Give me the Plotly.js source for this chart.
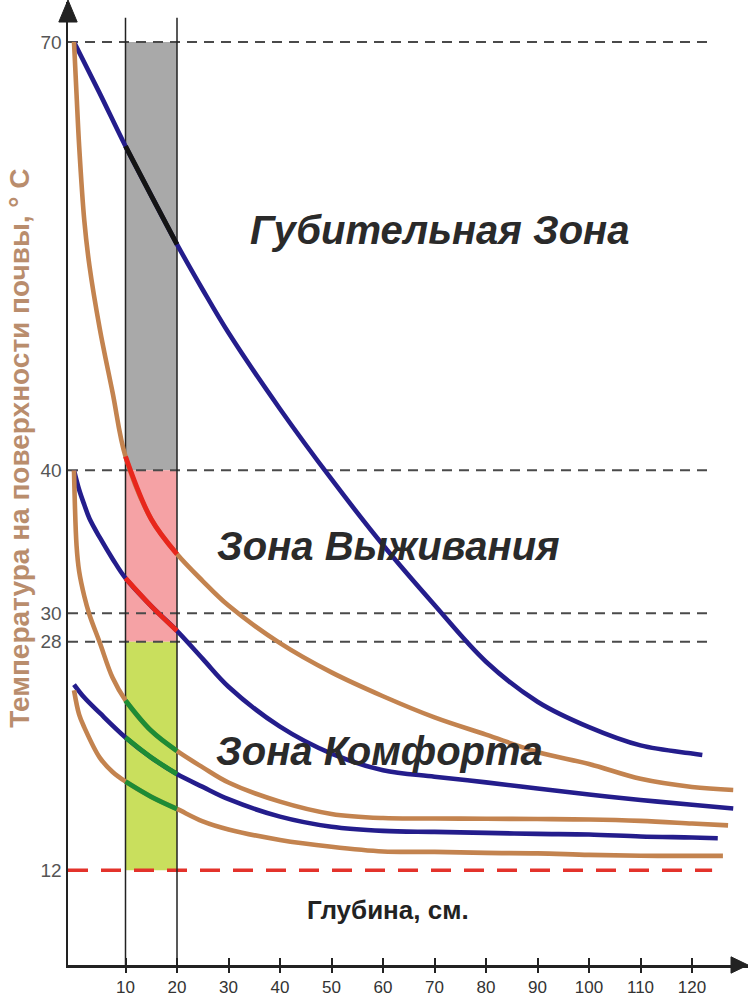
<!DOCTYPE html>
<html><head><meta charset="utf-8">
<script src="https://cdn.plot.ly/plotly-3.0.1.min.js"></script>
<style>html,body{margin:0;padding:0;background:#fff}#chart{width:750px;height:1000px}</style>
</head><body><div id="chart"></div>
<script>
// ---- data ----
const xTickVals = [10, 20, 30, 40, 50, 60, 70, 80, 90, 100, 110, 120];
const yTickVals = [12, 28, 30, 40, 70];
const dashedLevels = [70, 40, 30, 28];
const minLevel = 12;
const bandDepth = [10, 20];
const zoneKilling = [40, 70];
const zoneSurvival = [28, 40];
const zoneComfort = [12, 28];

const depthA = [0, 5, 10, 15, 20, 25, 30, 40, 50, 60, 70, 80, 90, 100, 110, 120, 122];
const tempA  = [70, 66.4, 62.7, 59.24, 55.83, 52.65, 49.63, 44.3, 39.38, 34.77, 30.57, 26.6, 23.8, 22.02, 20.74, 20.17, 20.07];

const depthB = [0, 0.5, 1, 2, 3, 5, 7.5, 10, 15, 20, 25, 30, 40, 50, 60, 70, 80, 90, 100, 110, 120, 128];
const tempB  = [70, 66.3, 62.72, 57.5, 54.33, 49.93, 45.44, 40.97, 36.58, 34.14, 32.25, 30.53, 27.9, 25.85, 24.18, 22.7, 21.49, 20.28, 19.44, 18.4, 17.83, 17.62];

const depthC = [0, 1, 2, 3, 5, 7.5, 10, 15, 20, 25, 30, 40, 50, 60, 70, 80, 90, 100, 110, 120, 128];
const tempC  = [40, 38.64, 37.59, 36.63, 35.3, 33.8, 32.45, 30.49, 28.76, 26.8, 24.85, 22.05, 20.16, 19.0, 18.55, 18.15, 17.72, 17.3, 16.92, 16.58, 16.32];

const depthD = [0, 0.5, 1, 2, 3, 5, 7.5, 10, 15, 20, 25, 30, 40, 50, 60, 70, 80, 90, 100, 110, 120, 127];
const tempD  = [40, 34.71, 32.92, 31.18, 29.89, 27.94, 25.47, 23.89, 21.76, 20.35, 19.2, 18.14, 16.8, 15.94, 15.65, 15.62, 15.6, 15.58, 15.55, 15.45, 15.27, 15.14];

const depthE = [0, 2, 5, 10, 15, 20, 25, 30, 40, 50, 60, 70, 80, 90, 100, 110, 120, 125];
const tempE  = [25.0, 24.09, 23.01, 21.3, 19.89, 18.73, 17.83, 16.97, 15.75, 15.04, 14.75, 14.68, 14.61, 14.54, 14.5, 14.36, 14.29, 14.24];

const depthF = [0, 1, 2, 5, 7.5, 10, 15, 20, 25, 30, 40, 50, 60, 70, 80, 90, 100, 110, 120, 126];
const tempF  = [24.6, 22.89, 22.0, 19.88, 18.88, 18.21, 17.14, 16.29, 15.42, 14.85, 14.12, 13.64, 13.31, 13.28, 13.21, 13.18, 13.07, 13.01, 13.0, 13.0];

const yTitle = 'Температура на поверхности почвы, ° C';
const xTitle = 'Глубина, см.';
const zoneLabels = ['Губительная Зона', 'Зона Выживания', 'Зона Комфорта'];

// ---- styles ----
const BLUE = '#241d8c', BROWN = '#c3834f';
const FONT = 'Liberation Sans, Arial, sans-serif';
const curves = [
  {x: depthA, y: tempA, c: BLUE,  h: '#141414'},
  {x: depthB, y: tempB, c: BROWN, h: '#e8261c'},
  {x: depthC, y: tempC, c: BLUE,  h: '#e8261c'},
  {x: depthD, y: tempD, c: BROWN, h: '#1d8c35'},
  {x: depthE, y: tempE, c: BLUE,  h: '#1d8c35'},
  {x: depthF, y: tempF, c: BROWN, h: '#1d8c35'}
];

const traces = [];
curves.forEach(cv => traces.push({
  x: cv.x, y: cv.y, type: 'scatter', mode: 'lines',
  line: {color: cv.c, width: 4.6, shape: 'spline', smoothing: 1.0},
  hoverinfo: 'skip', showlegend: false
}));
curves.forEach(cv => {
  const hx = [], hy = [];
  cv.x.forEach((v, i) => { if (v >= bandDepth[0] && v <= bandDepth[1]) { hx.push(v); hy.push(cv.y[i]); } });
  traces.push({
    x: hx, y: hy, type: 'scatter', mode: 'lines',
    line: {color: cv.h, width: 4.9, shape: 'spline', smoothing: 1.0},
    hoverinfo: 'skip', showlegend: false
  });
});
// invisible trace so the overlay tick axis is drawn
traces.push({x: [xTickVals[0]], y: [yTickVals[0]], xaxis: 'x2', type: 'scatter', mode: 'markers',
  marker: {opacity: 0}, hoverinfo: 'skip', showlegend: false});

// ---- layout geometry ----
const XR = [-1.165, 130.87], YR = [5.36, 72.8];
const lineEndX = 123.9;

const shapes = [];
const band = (lo, hi, col) => shapes.push({type: 'rect', xref: 'x', yref: 'y', x0: bandDepth[0], x1: bandDepth[1],
  y0: lo, y1: hi, fillcolor: col, line: {width: 0}, layer: 'below'});
band(zoneKilling[0], zoneKilling[1], '#a9a9a9');
band(zoneSurvival[0], zoneSurvival[1], '#f5a2a5');
band(zoneComfort[0], zoneComfort[1], '#c9df5d');
dashedLevels.forEach(v => shapes.push({type: 'line', xref: 'x', yref: 'y', x0: XR[0], x1: lineEndX, y0: v, y1: v,
  line: {color: '#4a4a4a', width: 2, dash: '10px,7px'}, layer: 'below'}));
shapes.push({type: 'line', xref: 'x', yref: 'y', x0: XR[0], x1: lineEndX, y0: minLevel, y1: minLevel,
  line: {color: '#e3322b', width: 3.5, dash: '20px,13px'}, layer: 'below'});
bandDepth.forEach(v => shapes.push({type: 'line', xref: 'x', yref: 'y', x0: v, x1: v, y0: YR[0], y1: 71.7,
  line: {color: '#222', width: 1.5}, layer: 'below'}));
// axis arrowheads
shapes.push({type: 'path', xref: 'paper', yref: 'paper', path: 'M -0.0135,0.9792 L 0,1.0021 L 0.0135,0.9792 Z',
  fillcolor: '#222', line: {color: '#222', width: 1}});
shapes.push({type: 'path', xref: 'paper', yref: 'paper', path: 'M 0.975,0.0085 L 1.0,0 L 0.975,-0.0085 Z',
  fillcolor: '#222', line: {color: '#222', width: 1}});

const zoneFont = {family: FONT, size: 40, color: '#2a2a2a', weight: 700, style: 'italic'};
const annotations = [
  {text: yTitle, xref: 'paper', yref: 'paper', x: -0.071, y: 0.5369, textangle: -90, showarrow: false,
   xanchor: 'center', yanchor: 'middle', font: {family: FONT, size: 28, color: '#b98d6d', weight: 700}},
  {text: xTitle, xref: 'paper', yref: 'paper', x: 0.4706, y: 0.0571, showarrow: false,
   xanchor: 'center', yanchor: 'middle', font: {family: FONT, size: 26, color: '#222', weight: 700}},
  {text: zoneLabels[0], xref: 'paper', yref: 'paper', x: 0.547, y: 0.7632, showarrow: false, xanchor: 'center', yanchor: 'middle', font: zoneFont},
  {text: zoneLabels[1], xref: 'paper', yref: 'paper', x: 0.4706, y: 0.4351, showarrow: false, xanchor: 'center', yanchor: 'middle', font: zoneFont},
  {text: zoneLabels[2], xref: 'paper', yref: 'paper', x: 0.4588, y: 0.2222, showarrow: false, xanchor: 'center', yanchor: 'middle', font: zoneFont}
];

const layout = {
  width: 750, height: 1000,
  margin: {l: 68, r: 2, t: 2, b: 35},
  paper_bgcolor: '#fff', plot_bgcolor: '#fff',
  showlegend: false,
  xaxis: {range: XR, tickvals: xTickVals, ticks: 'inside', ticklen: 7, tickwidth: 2, tickcolor: '#222',
    ticklabelstandoff: 5,
    showgrid: false, zeroline: false, showline: true, linecolor: '#222', linewidth: 2.5,
    tickfont: {family: FONT, size: 17, color: '#333'}, fixedrange: true},
  xaxis2: {range: XR, overlaying: 'x', anchor: 'y', side: 'bottom', tickvals: xTickVals, ticks: 'outside', ticklen: 7,
    tickwidth: 2, tickcolor: '#222', showticklabels: false, showgrid: false, zeroline: false, showline: false},
  yaxis: {range: YR, tickvals: yTickVals, ticks: '', showgrid: false, zeroline: false, showline: true,
    linecolor: '#222', linewidth: 2.5, tickfont: {family: FONT, size: 19, color: '#555'}, fixedrange: true},
  shapes: shapes,
  annotations: annotations
};

Plotly.newPlot('chart', traces, layout, {staticPlot: true, displayModeBar: false});
</script>
</body></html>
